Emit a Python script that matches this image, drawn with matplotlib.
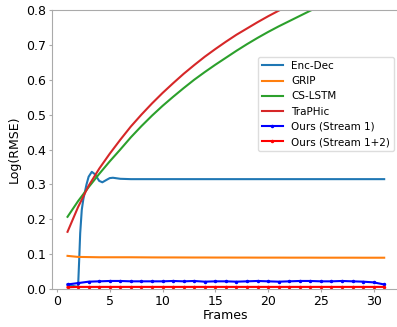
import numpy as np
import matplotlib
matplotlib.use("Agg")
import matplotlib.pyplot as plt

frames = list(range(1, 32))

# Enc-Dec read at a finer spacing (steep rise + overshoot near frame 2-5)
enc_frames = [1, 2, 2.1, 2.2, 2.35, 2.5, 2.65, 2.8, 3.0, 3.3, 3.6, 4.0, 4.3, 4.7, 5.0, 5.3, 6] + list(range(7, 32))
enc_dec = [0.012, 0.006, 0.08, 0.16, 0.227, 0.258, 0.279, 0.300, 0.322, 0.336, 0.329, 0.310,
           0.306, 0.313, 0.318, 0.319, 0.316] + [0.315] * 25

grip = [0.095, 0.092, 0.0915, 0.091, 0.091, 0.091, 0.091, 0.0908, 0.0906, 0.0905,
        0.0905, 0.0904, 0.0903, 0.0903, 0.0902, 0.0902, 0.0901, 0.0901, 0.0900, 0.0900,
        0.0900, 0.0899, 0.0899, 0.0899, 0.0898, 0.0898, 0.0898, 0.0898, 0.0897, 0.0897, 0.0897]

cs_lstm = [0.207, 0.252, 0.292, 0.330, 0.366, 0.400, 0.435, 0.467, 0.497, 0.525,
           0.551, 0.576, 0.600, 0.622, 0.643, 0.663, 0.683, 0.702, 0.720, 0.737,
           0.753, 0.768, 0.783, 0.798, 0.813, 0.827, 0.841, 0.855, 0.868, 0.881, 0.894]

traphic = [0.164, 0.235, 0.296, 0.345, 0.388, 0.428, 0.466, 0.500, 0.532, 0.562,
           0.590, 0.617, 0.642, 0.666, 0.688, 0.709, 0.729, 0.747, 0.765, 0.782,
           0.798, 0.814, 0.830, 0.845, 0.860, 0.874, 0.888, 0.902, 0.915, 0.928, 0.941]

ours_s1 = [0.013, 0.017, 0.021, 0.022, 0.023, 0.023, 0.022, 0.022, 0.022, 0.022,
           0.023, 0.022, 0.023, 0.021, 0.022, 0.022, 0.021, 0.022, 0.023, 0.022,
           0.021, 0.022, 0.023, 0.023, 0.022, 0.022, 0.023, 0.022, 0.021, 0.019, 0.013]

ours_s12 = [0.005, 0.006, 0.006, 0.006, 0.006, 0.006, 0.006, 0.006, 0.006, 0.006,
            0.006, 0.006, 0.006, 0.006, 0.006, 0.006, 0.006, 0.006, 0.006, 0.006,
            0.006, 0.006, 0.006, 0.006, 0.006, 0.006, 0.006, 0.006, 0.006, 0.006, 0.006]

plt.rcParams["font.family"] = "DejaVu Sans"
plt.rcParams["font.size"] = 9

fig = plt.figure(figsize=(3.97, 3.27), dpi=100)
ax = fig.add_axes([0.1302, 0.1162, 0.8774, 0.8532])

ax.plot(enc_frames, enc_dec, color="tab:blue", lw=1.5, label="Enc-Dec")
ax.plot(frames, grip, color="tab:orange", lw=1.5, label="GRIP")
ax.plot(frames, cs_lstm, color="tab:green", lw=1.5, label="CS-LSTM")
ax.plot(frames, traphic, color="tab:red", lw=1.5, label="TraPHic")
ax.plot(frames, ours_s1, color="blue", lw=1.5, marker=".", markersize=3, label="Ours (Stream 1)")
ax.plot(frames, ours_s12, color="red", lw=1.5, marker=".", markersize=3, label="Ours (Stream 1+2)")

ax.set_xlim(-0.5, 32.5)
ax.set_ylim(0, 0.8)
ax.set_xticks([0, 5, 10, 15, 20, 25, 30])
ax.set_yticks(np.arange(0, 0.81, 0.1))
ax.set_xlabel("Frames", labelpad=1)
ax.set_ylabel("Log(RMSE)", labelpad=4)

for s in ax.spines.values():
    s.set_color("#aaaaaa")
ax.tick_params(colors="#aaaaaa", labelcolor="black", length=2, pad=2)

ax.legend(loc="upper right", bbox_to_anchor=(0.983, 0.832), borderaxespad=0,
          fontsize=7.5, framealpha=1, edgecolor="#dddddd")

fig.savefig("out.png", dpi=100)
